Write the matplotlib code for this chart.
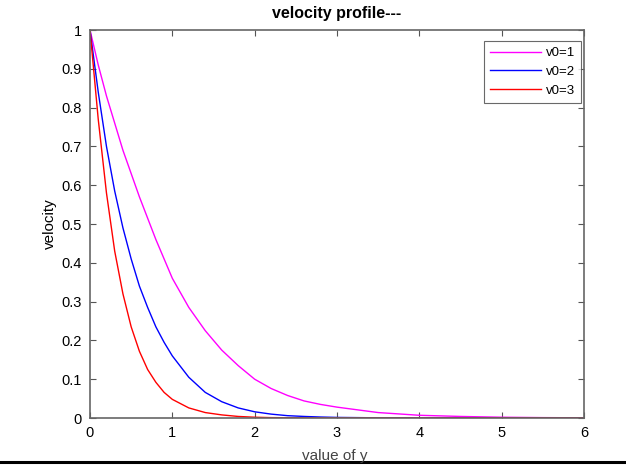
import matplotlib
matplotlib.use("Agg")
import matplotlib.pyplot as plt
from matplotlib.lines import Line2D

y_vals = [0, 0.1, 0.2, 0.3, 0.4, 0.5, 0.6, 0.7, 0.8, 0.9, 1.0, 1.2, 1.4, 1.6, 1.8,
          2.0, 2.2, 2.4, 2.6, 2.8, 3.0, 3.5, 4.0, 4.5, 5.0, 5.5, 6.0]
vel_v0_1 = [1.0, 0.91, 0.83, 0.76, 0.69, 0.63, 0.57, 0.515, 0.46, 0.41, 0.36, 0.285,
            0.225, 0.175, 0.135, 0.10, 0.076, 0.058, 0.044, 0.035, 0.028, 0.014,
            0.007, 0.004, 0.002, 0.001, 0.0005]
vel_v0_2 = [1.0, 0.84, 0.70, 0.585, 0.49, 0.41, 0.34, 0.285, 0.235, 0.195, 0.16, 0.105,
            0.066, 0.042, 0.026, 0.016, 0.010, 0.006, 0.004, 0.0025, 0.0015, 0.0005,
            0.0002, 0.0001, 0.0, 0.0, 0.0]
vel_v0_3 = [1.0, 0.77, 0.58, 0.43, 0.32, 0.235, 0.172, 0.125, 0.092, 0.066, 0.048, 0.026,
            0.014, 0.008, 0.004, 0.002, 0.001, 0.0006, 0.0003, 0.0002, 0.0001, 0.0,
            0.0, 0.0, 0.0, 0.0, 0.0]
labels = ["v0=1", "v0=2", "v0=3"]
colors = ["#ff00ff", "#0000ff", "#ff0000"]
x_ticks = [0, 1, 2, 3, 4, 5, 6]
y_ticks = [0, 0.1, 0.2, 0.3, 0.4, 0.5, 0.6, 0.7, 0.8, 0.9, 1]
y_tick_labels = ["0", "0.1", "0.2", "0.3", "0.4", "0.5", "0.6", "0.7", "0.8", "0.9", "1"]

plt.rcParams['font.family'] = ['Liberation Sans', 'DejaVu Sans']

W, H = 626, 466
fig = plt.figure(figsize=(W/100, H/100), dpi=100)
fig.patch.set_facecolor("white")
ax = fig.add_axes([90/W, 1-418/H, (584-90)/W, (418-30)/H])

for vals, lab, col in zip([vel_v0_1, vel_v0_2, vel_v0_3], labels, colors):
    ax.plot(y_vals, vals, color=col, lw=1.0, label=lab)

ax.set_xlim(0, 6)
ax.set_ylim(0, 1)
ax.set_xticks(x_ticks)
ax.set_yticks(y_ticks)
ax.set_yticklabels(y_tick_labels)
ax.tick_params(direction="in", length=4, width=0.8, top=True, right=True,
               labelsize=10.5, colors="#555555", labelcolor="black")
ax.tick_params(axis="x", pad=6)
ax.tick_params(axis="y", pad=6)
for s in ax.spines.values():
    s.set_color("#666666")
    s.set_linewidth(1.2)

ax.set_title("velocity profile---", fontsize=11.5, fontweight="bold", pad=9)
ax.set_ylabel("velocity", fontsize=11, labelpad=3)

leg = ax.legend(loc="upper right", bbox_to_anchor=(581/W, 1-41/H),
                bbox_transform=fig.transFigure, fontsize=9.5, frameon=True,
                fancybox=False, edgecolor="#444444", handlelength=3.8,
                borderpad=0.45, labelspacing=0.5, handletextpad=0.4,
                borderaxespad=0)
leg.get_frame().set_linewidth(0.8)

fig.text(335/W, 1-456/H, "value of y", ha="center", va="center",
         fontsize=11, color="#444444")
fig.add_artist(Line2D([0, 1], [1-462/H, 1-462/H], color="black", lw=2.2,
                      transform=fig.transFigure))

fig.savefig("out.png", dpi=100)
